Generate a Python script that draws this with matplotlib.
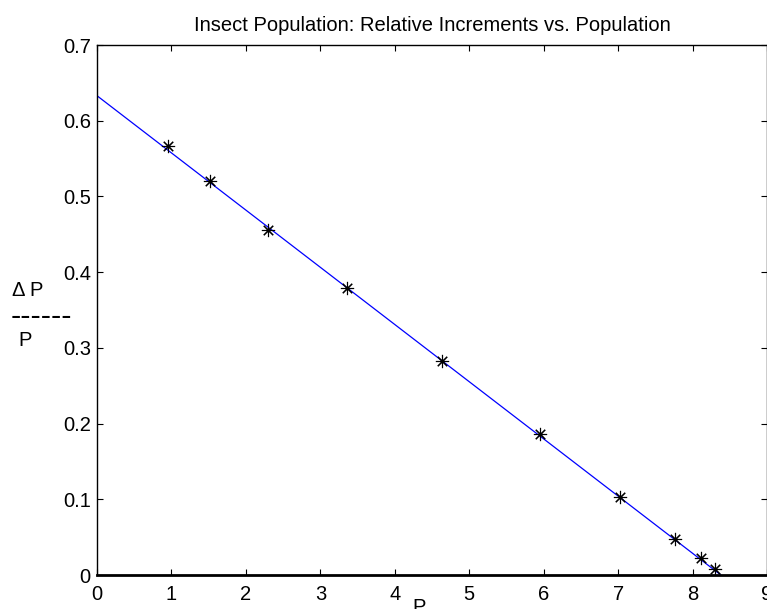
import matplotlib
matplotlib.use("Agg")
import matplotlib.pyplot as plt

plt.rcParams['font.family'] = ['Liberation Sans', 'DejaVu Sans']

# measured relative increments
P = [0.95, 1.52, 2.30, 3.36, 4.63, 5.95, 7.03, 7.76, 8.12, 8.30]
dP_over_P = [0.567, 0.520, 0.456, 0.379, 0.283, 0.186, 0.103, 0.048, 0.022, 0.008]

# fitted line end points
fit_x = [0.0, 8.38]
fit_y = [0.633, 0.0]

fig = plt.figure(figsize=(7.67, 6.09), dpi=100)
ax = fig.add_axes([0.1265, 0.0558, 0.8735, 0.8703])

ax.plot(fit_x, fit_y, color='blue', lw=0.9)
ax.plot(P, dP_over_P, ls='none', marker=(8, 2, 0), ms=9.5, mew=0.8, color='black')

ax.set_xlim(0, 9)
ax.set_ylim(0, 0.7)
ax.set_xticks(range(10))
ax.set_yticks([0, 0.1, 0.2, 0.3, 0.4, 0.5, 0.6, 0.7])
ax.set_yticklabels(['0', '0.1', '0.2', '0.3', '0.4', '0.5', '0.6', '0.7'])
ax.tick_params(direction='in', top=True, right=True, length=4.5, width=0.8,
               labelsize=14.5)
ax.tick_params(axis='y', pad=4.5)
ax.tick_params(axis='x', pad=7)
for s in ax.spines.values():
    s.set_linewidth(1.0)
ax.spines['bottom'].set_linewidth(2.0)

ax.set_title('Insect Population: Relative Increments vs. Population', fontsize=14.5, pad=10)
ax.set_xlabel('P', fontsize=14.5)
ax.xaxis.set_label_coords(0.4806, -0.0434)

# y label drawn as a fraction
fig.text(12 / 767, 1 - 290 / 609, '\u0394 P', fontsize=14.5, ha='left', va='center')
fig.text(11 / 767, 1 - 317 / 609, '------', fontsize=22, ha='left', va='center')
fig.text(18 / 767, 1 - 340 / 609, 'P', fontsize=14.5, ha='left', va='center')

fig.savefig('out.png', dpi=100)
